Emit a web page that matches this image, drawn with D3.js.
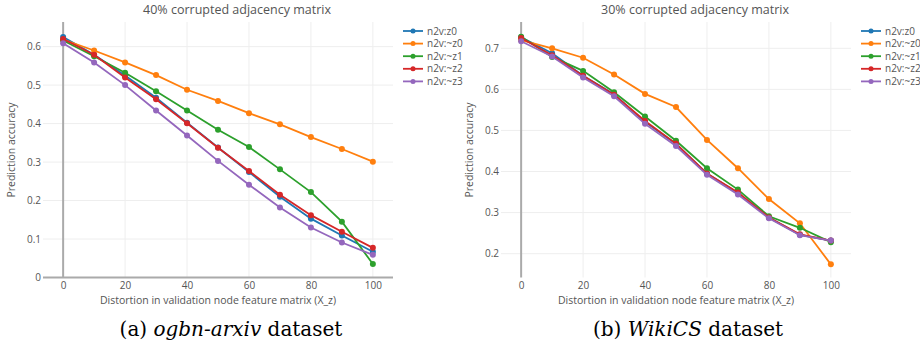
<!DOCTYPE html>
<html>
<head>
<meta charset="utf-8">
<script src="https://cdn.jsdelivr.net/npm/d3@7"></script>
<style>
  body { margin: 0; background: #fff; }
  svg text { font-family: "Open Sans", sans-serif; }
  .caption { font-family: "DejaVu Serif", serif; }
</style>
</head>
<body>
<div id="chart"></div>
<script>
// distortion levels on the x axis
var distortion = [0, 10, 20, 30, 40, 50, 60, 70, 80, 90, 100];
var seriesNames = ["n2v:z0", "n2v:~z0", "n2v:~z1", "n2v:~z2", "n2v:~z3"];
var colors = ["#1f77b4", "#ff7f0e", "#2ca02c", "#d62728", "#9467bd"];

// (a) ogbn-arxiv, 40% corrupted
var arxiv_z0  = [0.625, 0.579, 0.525, 0.467, 0.402, 0.338, 0.274, 0.210, 0.153, 0.109, 0.067];
var arxiv_nz0 = [0.618, 0.590, 0.559, 0.526, 0.488, 0.459, 0.427, 0.398, 0.365, 0.334, 0.301];
var arxiv_nz1 = [0.616, 0.575, 0.532, 0.484, 0.434, 0.384, 0.339, 0.281, 0.222, 0.145, 0.035];
var arxiv_nz2 = [0.620, 0.579, 0.520, 0.463, 0.401, 0.337, 0.277, 0.215, 0.162, 0.119, 0.077];
var arxiv_nz3 = [0.609, 0.559, 0.500, 0.434, 0.369, 0.303, 0.241, 0.182, 0.130, 0.091, 0.059];

// (b) WikiCS, 30% corrupted
var wiki_z0  = [0.727, 0.688, 0.633, 0.588, 0.521, 0.467, 0.395, 0.348, 0.288, 0.246, 0.232];
var wiki_nz0 = [0.720, 0.700, 0.677, 0.636, 0.589, 0.557, 0.477, 0.408, 0.333, 0.274, 0.174];
var wiki_nz1 = [0.728, 0.679, 0.645, 0.593, 0.534, 0.475, 0.408, 0.356, 0.291, 0.263, 0.228];
var wiki_nz2 = [0.725, 0.683, 0.633, 0.587, 0.523, 0.468, 0.395, 0.349, 0.288, 0.247, 0.232];
var wiki_nz3 = [0.717, 0.680, 0.629, 0.583, 0.516, 0.462, 0.392, 0.344, 0.286, 0.245, 0.232];

var xTicks = [0, 20, 40, 60, 80, 100];
var arxivYTicks = [0, 0.1, 0.2, 0.3, 0.4, 0.5, 0.6];
var wikiYTicks = [0.2, 0.3, 0.4, 0.5, 0.6, 0.7];

var svg = d3.select("#chart").append("svg")
    .attr("width", 920)
    .attr("height", 347);

function drawPanel(opt) {
    var g = svg.append("g");
    var x = d3.scaleLinear().domain([-6.5, 106.5]).range([opt.left, opt.left + 350]);
    var y = d3.scaleLinear().domain(opt.yDomain).range([277.5, 22]);

    // grid
    g.selectAll(".gx").data(xTicks.filter(function(d) { return d !== 0; })).enter()
        .append("line")
        .attr("x1", function(d) { return x(d); }).attr("x2", function(d) { return x(d); })
        .attr("y1", y.range()[1]).attr("y2", y.range()[0])
        .attr("stroke", "#eee").attr("stroke-width", 1);
    g.selectAll(".gy").data(opt.yTicks.filter(function(d) { return d !== 0; })).enter()
        .append("line")
        .attr("x1", x.range()[0]).attr("x2", x.range()[1])
        .attr("y1", function(d) { return y(d); }).attr("y2", function(d) { return y(d); })
        .attr("stroke", "#eee").attr("stroke-width", 1);

    // zero lines
    g.append("line")
        .attr("x1", x(0)).attr("x2", x(0))
        .attr("y1", y.range()[1]).attr("y2", y.range()[0])
        .attr("stroke", "#aaa").attr("stroke-width", 2);
    if (opt.yDomain[0] <= 0) {
        g.append("line")
            .attr("x1", x.range()[0]).attr("x2", x.range()[1])
            .attr("y1", y(0)).attr("y2", y(0))
            .attr("stroke", "#aaa").attr("stroke-width", 2);
    }

    // axes (labels only)
    var xAxis = g.append("g")
        .attr("transform", "translate(0,277.5)")
        .call(d3.axisBottom(x).tickValues(xTicks).tickSize(0).tickPadding(4));
    var yAxis = g.append("g")
        .attr("transform", "translate(" + opt.left + ",0)")
        .call(d3.axisLeft(y).tickValues(opt.yTicks).tickSize(0).tickPadding(2)
            .tickFormat(function(d) { return d === 0 ? "0" : d3.format(".1f")(d); }));
    [xAxis, yAxis].forEach(function(a) {
        a.select(".domain").remove();
        a.selectAll("text").attr("fill", "#555").style("font-size", "10px");
    });

    // lines + markers
    var line = d3.line()
        .x(function(d, i) { return x(distortion[i]); })
        .y(function(d) { return y(d); });
    opt.series.forEach(function(vals, k) {
        g.append("path")
            .datum(vals)
            .attr("d", line)
            .attr("fill", "none")
            .attr("stroke", colors[k])
            .attr("stroke-width", 1.8);
        g.selectAll(".m" + k).data(vals).enter()
            .append("circle")
            .attr("cx", function(d, i) { return x(distortion[i]); })
            .attr("cy", function(d) { return y(d); })
            .attr("r", 3)
            .attr("fill", colors[k]);
    });

    // titles
    g.append("text")
        .attr("x", opt.left + 175 + 19).attr("y", 14)
        .attr("text-anchor", "middle")
        .attr("fill", "#555").style("font-size", "12.5px")
        .text(opt.title);
    g.append("text")
        .attr("x", opt.left + 175).attr("y", 304)
        .attr("text-anchor", "middle")
        .attr("fill", "#555").style("font-size", "10.5px")
        .text("Distortion in validation node feature matrix (X_z)");
    g.append("text")
        .attr("transform", "translate(" + (opt.left - 28) + ",150) rotate(-90)")
        .attr("text-anchor", "middle")
        .attr("fill", "#555").style("font-size", "10.5px")
        .text("Prediction accuracy");

    // legend
    var lx = opt.legendX;
    seriesNames.forEach(function(name, k) {
        var ly = 31 + k * 12.6;
        g.append("line")
            .attr("x1", lx).attr("x2", lx + 20)
            .attr("y1", ly).attr("y2", ly)
            .attr("stroke", colors[k]).attr("stroke-width", 1.8);
        g.append("circle")
            .attr("cx", lx + 10).attr("cy", ly).attr("r", 2.5)
            .attr("fill", colors[k]);
        g.append("text")
            .attr("x", lx + 24).attr("y", ly + 3.5)
            .attr("fill", "#555").style("font-size", "10px")
            .text(name);
    });

    // caption
    var cap = svg.append("text")
        .attr("class", "caption")
        .attr("x", opt.captionX).attr("y", 336)
        .attr("text-anchor", "middle")
        .attr("fill", "#000").style("font-size", "20px");
    cap.append("tspan").text(opt.caption[0]);
    cap.append("tspan").style("font-style", "italic").text(opt.caption[1]);
    cap.append("tspan").text(opt.caption[2]);
}

drawPanel({
    left: 43,
    yDomain: [0, 0.664],
    yTicks: arxivYTicks,
    series: [arxiv_z0, arxiv_nz0, arxiv_nz1, arxiv_nz2, arxiv_nz3],
    title: "40% corrupted adjacency matrix",
    legendX: 403,
    captionX: 231,
    caption: ["(a) ", "ogbn-arxiv", " dataset"]
});

drawPanel({
    left: 501,
    yDomain: [0.142, 0.764],
    yTicks: wikiYTicks,
    series: [wiki_z0, wiki_nz0, wiki_nz1, wiki_nz2, wiki_nz3],
    title: "30% corrupted adjacency matrix",
    legendX: 861,
    captionX: 688,
    caption: ["(b) ", "WikiCS", " dataset"]
});
</script>
</body>
</html>
